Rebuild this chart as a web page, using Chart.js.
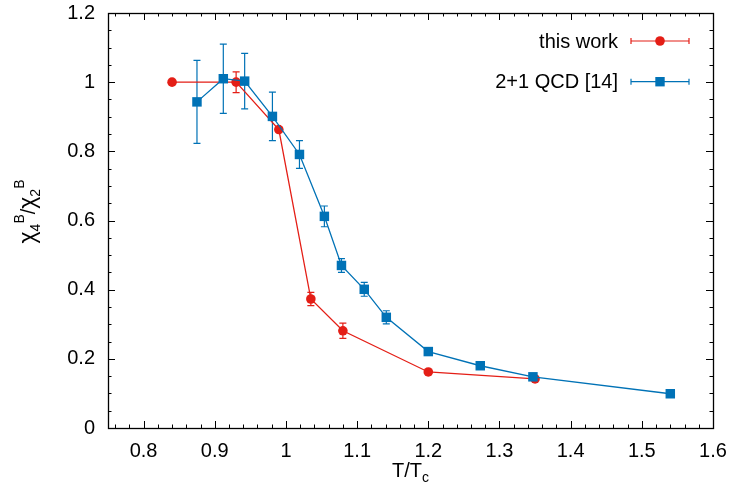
<!DOCTYPE html>
<html>
<head>
<meta charset="utf-8">
<script src="https://cdn.jsdelivr.net/npm/chart.js@4"></script>
<style>
body { margin: 0; background: #fff; }
</style>
</head>
<body>
<canvas id="myChart" width="733" height="496"></canvas>
<script>
// "this work" points
const workT = [0.84, 0.93, 0.99, 1.035, 1.08, 1.2, 1.35];
const workChi = [1.0, 1.0, 0.863, 0.373, 0.281, 0.162, 0.142];
const workErr = [0, 0.03, 0.004, 0.019, 0.022, 0.004, 0.004];

// "2+1 QCD [14]" points
const qcdT = [0.875, 0.912, 0.942, 0.981, 1.019, 1.054, 1.078, 1.11, 1.141, 1.2, 1.273, 1.347, 1.54];
const qcdChi = [0.943, 1.01, 1.003, 0.901, 0.791, 0.612, 0.47, 0.401, 0.32, 0.221, 0.18, 0.148, 0.099];
const qcdErr = [0.12, 0.1, 0.08, 0.07, 0.04, 0.03, 0.02, 0.02, 0.019, 0.005, 0.005, 0.005, 0.005];

const xTicks = [0.8, 0.9, 1, 1.1, 1.2, 1.3, 1.4, 1.5, 1.6];
const xLabels = ["0.8", "0.9", "1", "1.1", "1.2", "1.3", "1.4", "1.5", "1.6"];
const yTicks = [0, 0.2, 0.4, 0.6, 0.8, 1, 1.2];
const yLabels = ["0", "0.2", "0.4", "0.6", "0.8", "1", "1.2"];
const xMinor = 0.02;
const yMinor = 0.05;

const RED = 'rgb(228, 30, 22)';
const BLUE = 'rgb(0, 114, 182)';
const FONT = "'Liberation Sans', Arial, sans-serif";

Chart.defaults.font.family = FONT;
Chart.defaults.font.size = 20;
Chart.defaults.color = '#000';

function toPoints(xs, ys) {
  let pts = [];
  for (let i = 0; i < xs.length; i++) {
    pts.push({x: xs[i], y: ys[i]});
  }
  return pts;
}

// vertical error bars with small caps, drawn under the markers
const errorBars = {
  id: 'errorBars',
  beforeDatasetsDraw(chart) {
    const ctx = chart.ctx;
    const xs = chart.scales.x, ys = chart.scales.y;
    chart.data.datasets.forEach(ds => {
      ctx.save();
      ctx.strokeStyle = ds.borderColor;
      ctx.lineWidth = 1.2;
      for (let i = 0; i < ds.data.length; i++) {
        const e = ds.errors[i];
        if (!e) continue;
        const px = xs.getPixelForValue(ds.data[i].x);
        const top = ys.getPixelForValue(ds.data[i].y + e);
        const bot = ys.getPixelForValue(ds.data[i].y - e);
        ctx.beginPath();
        ctx.moveTo(px, top); ctx.lineTo(px, bot);
        ctx.moveTo(px - 3.5, top); ctx.lineTo(px + 3.5, top);
        ctx.moveTo(px - 3.5, bot); ctx.lineTo(px + 3.5, bot);
        ctx.stroke();
      }
      ctx.restore();
    });
  }
};

// gnuplot style frame: inward ticks on all four sides, titles and key
const frame = {
  id: 'frame',
  afterDraw(chart) {
    const ctx = chart.ctx;
    const a = chart.chartArea;
    const xs = chart.scales.x, ys = chart.scales.y;
    ctx.save();
    ctx.strokeStyle = '#000';
    ctx.lineWidth = 1;
    ctx.beginPath();
    for (let v = 0.76; v < 1.6; v += xMinor) {
      const px = Math.round(xs.getPixelForValue(v)) + 0.5;
      ctx.moveTo(px, a.bottom); ctx.lineTo(px, a.bottom - 3.5);
      ctx.moveTo(px, a.top); ctx.lineTo(px, a.top + 3.5);
    }
    for (let v = yMinor; v < 1.2; v += yMinor) {
      const py = Math.round(ys.getPixelForValue(v)) + 0.5;
      ctx.moveTo(a.left, py); ctx.lineTo(a.left + 3.5, py);
      ctx.moveTo(a.right, py); ctx.lineTo(a.right - 3.5, py);
    }
    xTicks.forEach(v => {
      const px = Math.round(xs.getPixelForValue(v)) + 0.5;
      ctx.moveTo(px, a.bottom); ctx.lineTo(px, a.bottom - 7);
      ctx.moveTo(px, a.top); ctx.lineTo(px, a.top + 7);
    });
    yTicks.forEach(v => {
      const py = Math.round(ys.getPixelForValue(v)) + 0.5;
      ctx.moveTo(a.left, py); ctx.lineTo(a.left + 7, py);
      ctx.moveTo(a.right, py); ctx.lineTo(a.right - 7, py);
    });
    ctx.stroke();
    ctx.lineWidth = 1.3;
    ctx.strokeRect(a.left + 0.5, a.top + 0.5, a.right - a.left, a.bottom - a.top);

    // x title  T/Tc
    ctx.fillStyle = '#000';
    ctx.textBaseline = 'alphabetic';
    ctx.font = '20px ' + FONT;
    const w1 = ctx.measureText('T/T').width;
    ctx.font = '14px ' + FONT;
    const w2 = ctx.measureText('c').width;
    let sx = (a.left + a.right) / 2 - (w1 + w2) / 2;
    ctx.font = '20px ' + FONT;
    ctx.textAlign = 'left';
    ctx.fillText('T/T', sx, 477);
    ctx.font = '14px ' + FONT;
    ctx.fillText('c', sx + w1, 482);

    // y title  chi4^B / chi2^B, rotated
    const parts = [
      ['\u03c7', 23, 0], ['4', 14, 5], ['B', 14, -11],
      ['/', 20, 0], ['\u03c7', 23, 0], ['2', 14, 5], ['B', 14, -11]
    ];
    let total = 0;
    parts.forEach(p => { ctx.font = p[1] + 'px ' + FONT; total += ctx.measureText(p[0]).width; });
    ctx.translate(35, (a.top + a.bottom) / 2 - 9);
    ctx.rotate(-Math.PI / 2);
    let tx = -total / 2;
    parts.forEach(p => {
      ctx.font = p[1] + 'px ' + FONT;
      ctx.fillText(p[0], tx, p[2]);
      tx += ctx.measureText(p[0]).width;
    });
    ctx.restore();

    // key in the top right corner
    ctx.save();
    ctx.font = '20px ' + FONT;
    ctx.textAlign = 'right';
    ctx.textBaseline = 'middle';
    chart.data.datasets.slice().reverse().forEach((ds, i) => {
      const y = 41 + i * 40.7;
      ctx.fillStyle = '#000';
      ctx.fillText(ds.label, 618, y + 1);
      ctx.strokeStyle = ds.borderColor;
      ctx.lineWidth = 1.2;
      ctx.beginPath();
      ctx.moveTo(631, y); ctx.lineTo(689, y);
      ctx.moveTo(631, y - 3); ctx.lineTo(631, y + 3);
      ctx.moveTo(689, y - 3); ctx.lineTo(689, y + 3);
      ctx.stroke();
      ctx.fillStyle = ds.backgroundColor;
      ctx.beginPath();
      if (ds.pointStyle === 'rect') {
        ctx.rect(660 - 4.7, y - 4.7, 9.4, 9.4);
      } else {
        ctx.arc(660, y, 4.8, 0, Math.PI * 2);
      }
      ctx.fill();
    });
    ctx.restore();
  }
};

const config = {
  type: 'line',
  data: {
    datasets: [
      {
        label: '2+1 QCD [14]',
        data: toPoints(qcdT, qcdChi),
        errors: qcdErr,
        borderColor: BLUE,
        backgroundColor: BLUE,
        borderWidth: 1.3,
        pointStyle: 'rect',
        pointRadius: 6.7,
        pointBorderWidth: 0,
        tension: 0,
        order: 1
      },
      {
        label: 'this work',
        data: toPoints(workT, workChi),
        errors: workErr,
        borderColor: RED,
        backgroundColor: RED,
        borderWidth: 1.3,
        pointStyle: 'circle',
        pointRadius: 4.8,
        pointBorderWidth: 0,
        tension: 0,
        order: 2
      }
    ]
  },
  options: {
    responsive: false,
    animation: false,
    layout: { padding: { top: 13, right: 20, left: 0, bottom: 0 } },
    plugins: { legend: { display: false }, tooltip: { enabled: false } },
    scales: {
      x: {
        type: 'linear',
        min: 0.75,
        max: 1.6,
        grid: { display: false, drawTicks: false },
        border: { display: false },
        afterBuildTicks: s => { s.ticks = xTicks.map(v => ({value: v})); },
        afterFit: s => { s.height = 68; s.paddingLeft = 0; s.paddingRight = 0; },
        ticks: { padding: 11, maxRotation: 0, callback: v => xLabels[xTicks.indexOf(v)] }
      },
      y: {
        type: 'linear',
        min: 0,
        max: 1.2,
        grid: { display: false, drawTicks: false },
        border: { display: false },
        afterBuildTicks: s => { s.ticks = yTicks.map(v => ({value: v})); },
        afterFit: s => { s.width = 108; s.paddingTop = 0; s.paddingBottom = 0; },
        ticks: { padding: 13, callback: v => yLabels[yTicks.indexOf(v)] }
      }
    }
  },
  plugins: [errorBars, frame]
};

const myChart = new Chart(document.getElementById('myChart'), config);
</script>
</body>
</html>
